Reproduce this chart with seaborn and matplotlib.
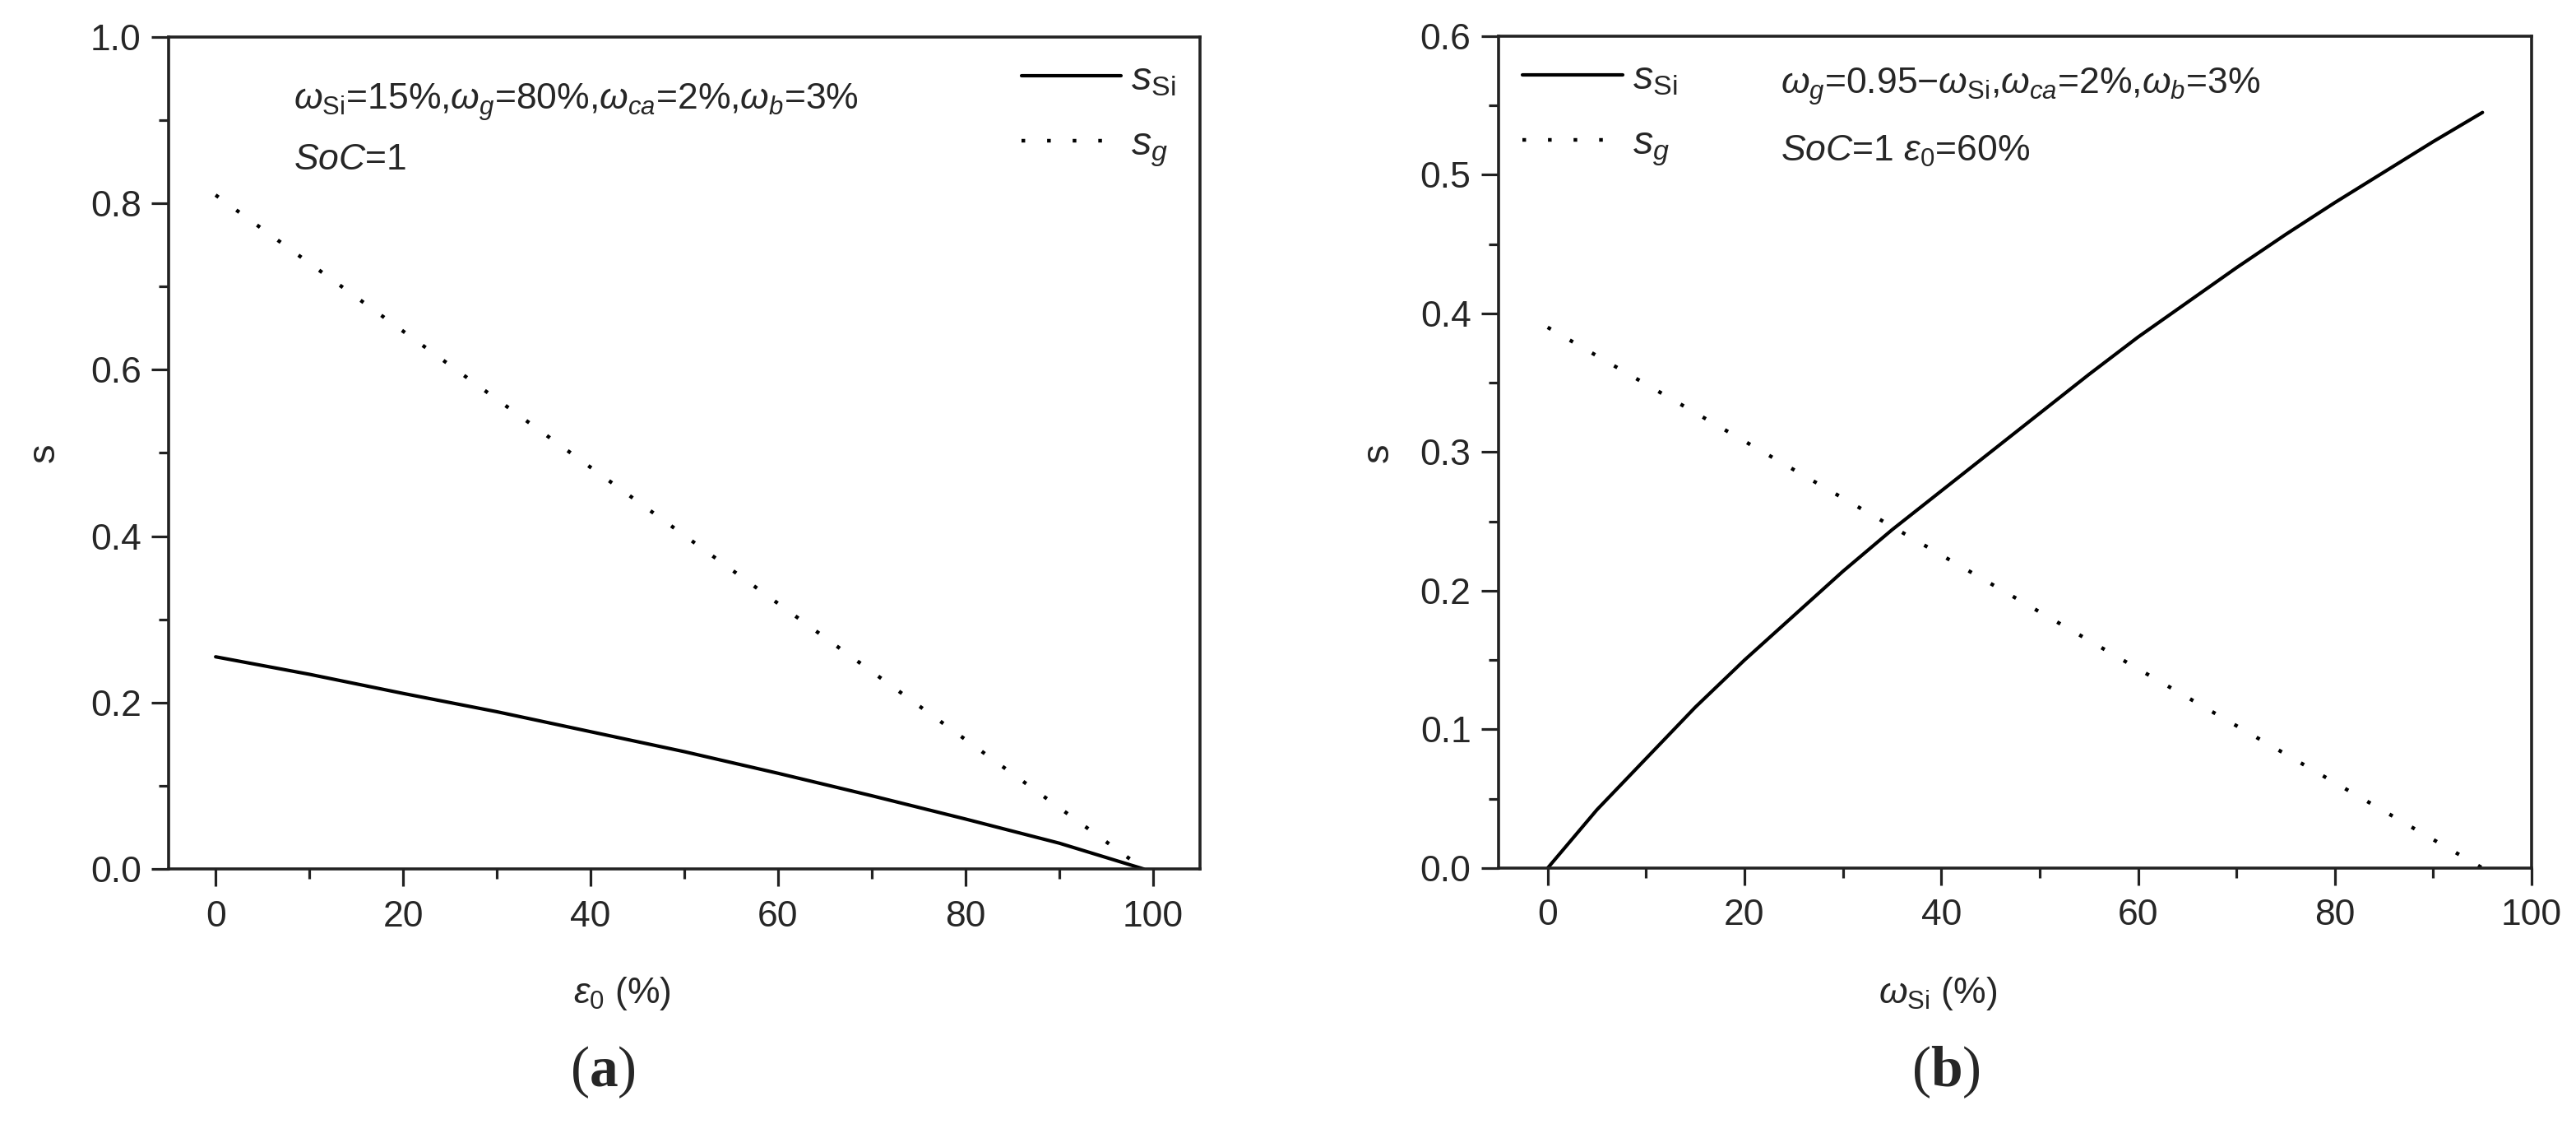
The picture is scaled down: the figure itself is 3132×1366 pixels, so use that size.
import matplotlib
matplotlib.use("Agg")
import matplotlib.pyplot as plt
from matplotlib.ticker import MultipleLocator, FormatStrFormatter
import pandas as pd
import seaborn as sns

# (a) s vs initial porosity eps0 (%)
eps0 = [0, 10, 20, 30, 40, 50, 60, 70, 80, 90, 99]
s_si_a = [0.255, 0.234, 0.211, 0.189, 0.165, 0.141, 0.115, 0.088, 0.060, 0.031, 0.0]
eps0_g = [0, 99]
s_g_a = [0.81, 0.0]

# (b) s vs silicon mass fraction w_Si (%)
w_si = [0, 5, 10, 15, 20, 25, 30, 35, 40, 45, 50, 55, 60, 65, 70, 75, 80, 85, 90, 95]
s_si_b = [0.0, 0.042, 0.079, 0.116, 0.150, 0.182, 0.214, 0.244, 0.272, 0.300,
          0.328, 0.356, 0.383, 0.408, 0.433, 0.457, 0.480, 0.502, 0.524, 0.545]
w_si_g = [0, 95]
s_g_b = [0.39, 0.0]

df_a_si = pd.DataFrame({'x': eps0, 's': s_si_a})
df_a_g = pd.DataFrame({'x': eps0_g, 's': s_g_a})
df_b_si = pd.DataFrame({'x': w_si, 's': s_si_b})
df_b_g = pd.DataFrame({'x': w_si_g, 's': s_g_b})

sns.set_theme(style="ticks")
plt.rcParams['font.family'] = ['Liberation Sans', 'DejaVu Sans']
plt.rcParams['mathtext.fontset'] = 'custom'
plt.rcParams['mathtext.rm'] = 'Liberation Sans'
plt.rcParams['mathtext.it'] = 'Liberation Sans:italic'
plt.rcParams['mathtext.bf'] = 'Liberation Serif:bold'

fig = plt.figure(figsize=(31.32, 13.66), dpi=100)
ax1 = fig.add_axes([0.0655, 0.2269, 0.4003, 0.7402])
ax2 = fig.add_axes([0.5817, 0.2277, 0.4011, 0.7401])

dot = (0, (1, 6))
lab_si = r"$s_{\mathrm{Si}}$"
lab_g = r"$s_g$"
leg_kw = dict(frameon=False, fontsize=35, handlelength=2.5, handletextpad=0.25,
              labelspacing=0.7, borderaxespad=0.2)

# panel (a)
sns.lineplot(data=df_a_si, x='x', y='s', ax=ax1, color='black', lw=3.0, label=lab_si)
sns.lineplot(data=df_a_g, x='x', y='s', ax=ax1, color='black', lw=3.2, ls=dot, label=lab_g)
ax1.set_xlim(-5, 105)
ax1.set_ylim(0, 1.0)
ax1.xaxis.set_major_locator(MultipleLocator(20))
ax1.xaxis.set_minor_locator(MultipleLocator(10))
ax1.yaxis.set_major_locator(MultipleLocator(0.2))
ax1.yaxis.set_minor_locator(MultipleLocator(0.1))
ax1.text(0.121, 0.922, r"$\omega_{\mathrm{Si}}$=15%,$\omega_g$=80%,$\omega_{ca}$=2%,$\omega_b$=3%",
         transform=ax1.transAxes, fontsize=32, va='center')
ax1.text(0.121, 0.852, r"$SoC$=1", transform=ax1.transAxes, fontsize=32, va='center')
ax1.legend(loc='upper right', **leg_kw)

# panel (b)
sns.lineplot(data=df_b_si, x='x', y='s', ax=ax2, color='black', lw=3.0, label=lab_si)
sns.lineplot(data=df_b_g, x='x', y='s', ax=ax2, color='black', lw=3.2, ls=dot, label=lab_g)
ax2.set_xlim(-5, 100)
ax2.set_ylim(0, 0.6)
ax2.xaxis.set_major_locator(MultipleLocator(20))
ax2.xaxis.set_minor_locator(MultipleLocator(10))
ax2.yaxis.set_major_locator(MultipleLocator(0.1))
ax2.yaxis.set_minor_locator(MultipleLocator(0.05))
ax2.yaxis.set_major_formatter(FormatStrFormatter('%.1f'))
ax2.text(0.273, 0.94, r"$\omega_g$=0.95$-\omega_{\mathrm{Si}}$,$\omega_{ca}$=2%,$\omega_b$=3%",
         transform=ax2.transAxes, fontsize=32, va='center')
ax2.text(0.273, 0.862, r"$SoC$=1 $ε_0$=60%", transform=ax2.transAxes, fontsize=32, va='center')
ax2.legend(loc='upper left', **leg_kw)

for ax in (ax1, ax2):
    ax.set_xlabel('')
    ax.set_ylabel('')
    for sp in ax.spines.values():
        sp.set_linewidth(2.6)
        sp.set_color('#222222')
    ax.tick_params(which='major', direction='out', length=15, width=2.3, labelsize=32,
                   color='#222222', pad=9)
    ax.tick_params(which='minor', direction='out', length=8.6, width=2.3, color='#222222')
    ax.tick_params(axis='x', which='major', pad=12)

# axis labels and panel tags
fig.text(54 / 3132, 1 - 550 / 1366, 's', rotation=90, fontsize=34, ha='center', va='center')
fig.text(1676 / 3132, 1 - 550 / 1366, 's', rotation=90, fontsize=34, ha='center', va='center')
fig.text(756 / 3132, 1 - 1208 / 1366, r"$ε_0$ (%)", fontsize=32, ha='center', va='center')
fig.text(2356 / 3132, 1 - 1208 / 1366, r"$\omega_{\mathrm{Si}}$ (%)", fontsize=32, ha='center', va='center')
fig.text(733 / 3132, 1 - 1303 / 1366, r"($\mathbf{a}$)", fontsize=50, ha='center', va='center',
         family='Liberation Serif')
fig.text(2366 / 3132, 1 - 1303 / 1366, r"($\mathbf{b}$)", fontsize=50, ha='center', va='center',
         family='Liberation Serif')

fig.savefig('out.png', dpi=100, facecolor='white')
